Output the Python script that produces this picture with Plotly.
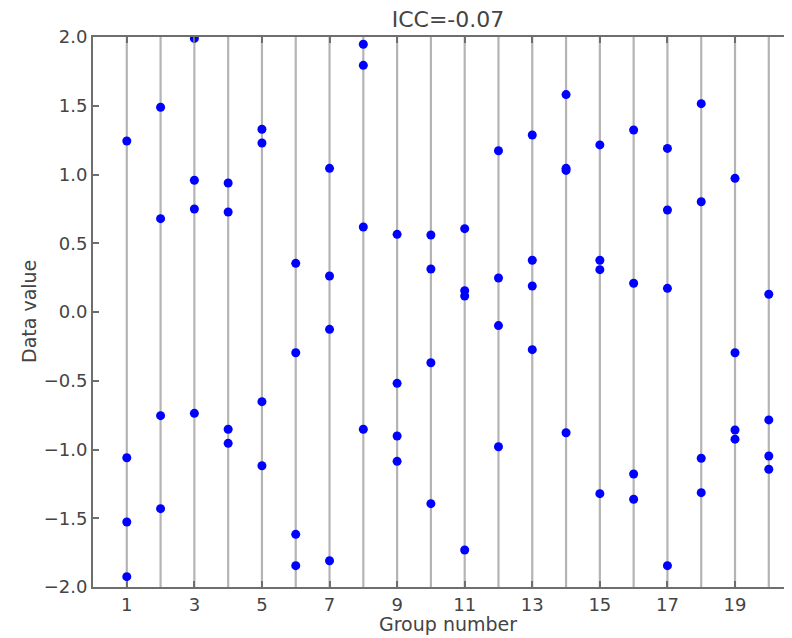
import plotly.graph_objects as go

groups = list(range(1, 21))
values = [
    [1.244, -1.06, -1.527, -1.925],
    [1.489, 0.679, -0.754, -1.43],
    [1.99, 0.958, 0.749, -0.737],
    [0.938, 0.727, -0.853, -0.955],
    [1.329, 1.229, -0.652, -1.118],
    [0.354, -0.296, -1.617, -1.845],
    [1.045, 0.262, -0.126, -1.809],
    [1.947, 1.794, 0.618, -0.853],
    [0.565, -0.519, -0.902, -1.086],
    [0.56, 0.313, -0.369, -1.394],
    [0.606, 0.155, 0.116, -1.731],
    [1.173, 0.247, -0.099, -0.98],
    [1.287, 0.376, 0.189, -0.274],
    [1.581, 1.045, 1.03, -0.878],
    [1.215, 0.376, 0.308, -1.321],
    [1.324, 0.209, -1.178, -1.362],
    [1.19, 0.742, 0.172, -1.845],
    [1.515, 0.802, -1.064, -1.314],
    [0.972, -0.296, -0.858, -0.925],
    [0.129, -0.785, -1.047, -1.144],
]
x_ticks = [1, 3, 5, 7, 9, 11, 13, 15, 17, 19]
y_ticks = [-2.0, -1.5, -1.0, -0.5, 0.0, 0.5, 1.0, 1.5, 2.0]
y_range = [-2.0, 2.0]
title_text = "ICC=-0.07"

# page body has an 8px margin; figure sized to fill the rest of the window
OFF = 8
W, H = 792 - OFF, 638 - OFF
L, R, T = 93 - OFF, 0, 37 - OFF
B = H - (587 - OFF)
plot_w = W - L - R
plot_h = H - T - B
x_range = [0, plot_w / 33.79]

fig = go.Figure()

# vertical gray lines per group
lx, ly = [], []
for g in groups:
    lx += [g, g, None]
    ly += [y_range[0], y_range[1], None]
fig.add_trace(go.Scatter(x=lx, y=ly, mode="lines",
                         line=dict(color="#b4b4b4", width=2.2),
                         hoverinfo="skip", showlegend=False))

px, py = [], []
for g, vals in zip(groups, values):
    for v in vals:
        px.append(g)
        py.append(v)
fig.add_trace(go.Scatter(x=px, y=py, mode="markers",
                         marker=dict(color="#0000ff", size=9, line=dict(width=0)),
                         showlegend=False, cliponaxis=True))

font = dict(family="DejaVu Sans", size=18, color="#444444")
axis_col = "#6e6e6e"

fig.update_layout(
    width=W, height=H,
    margin=dict(l=L, r=R, t=T, b=B, pad=0),
    plot_bgcolor="white", paper_bgcolor="white",
    font=font,
    xaxis=dict(range=x_range, tickvals=x_ticks, ticktext=[str(t) for t in x_ticks],
               ticks="inside", ticklen=6, tickwidth=1.5, tickcolor=axis_col,
               showline=True, linecolor=axis_col, linewidth=2, mirror="ticks",
               showgrid=False, zeroline=False, tickfont=font),
    yaxis=dict(range=y_range, tickvals=y_ticks, tickformat=".1f",
               ticks="inside", ticklen=6, tickwidth=1.5, tickcolor=axis_col,
               showline=True, linecolor=axis_col, linewidth=2,
               showgrid=False, zeroline=False, tickfont=font),
    title=dict(text=title_text, xref="container", x=(448 - OFF) / W, xanchor="center",
               yref="container", y=1 - (19.5 - OFF) / H, yanchor="middle",
               font=dict(family="DejaVu Sans", size=22, color="#444444")),
)

fig.add_annotation(text="Group number", xref="paper", yref="paper",
                   x=(448 - 93) / plot_w, y=(587 - 624) / plot_h,
                   xanchor="center", yanchor="middle", showarrow=False,
                   font=dict(family="DejaVu Sans", size=19, color="#444444"))
fig.add_annotation(text="Data value", xref="paper", yref="paper",
                   x=(29 - 93) / plot_w, y=0.5, textangle=-90,
                   xanchor="center", yanchor="middle", showarrow=False,
                   font=dict(family="DejaVu Sans", size=19, color="#444444"))

fig.write_html("out.html")
